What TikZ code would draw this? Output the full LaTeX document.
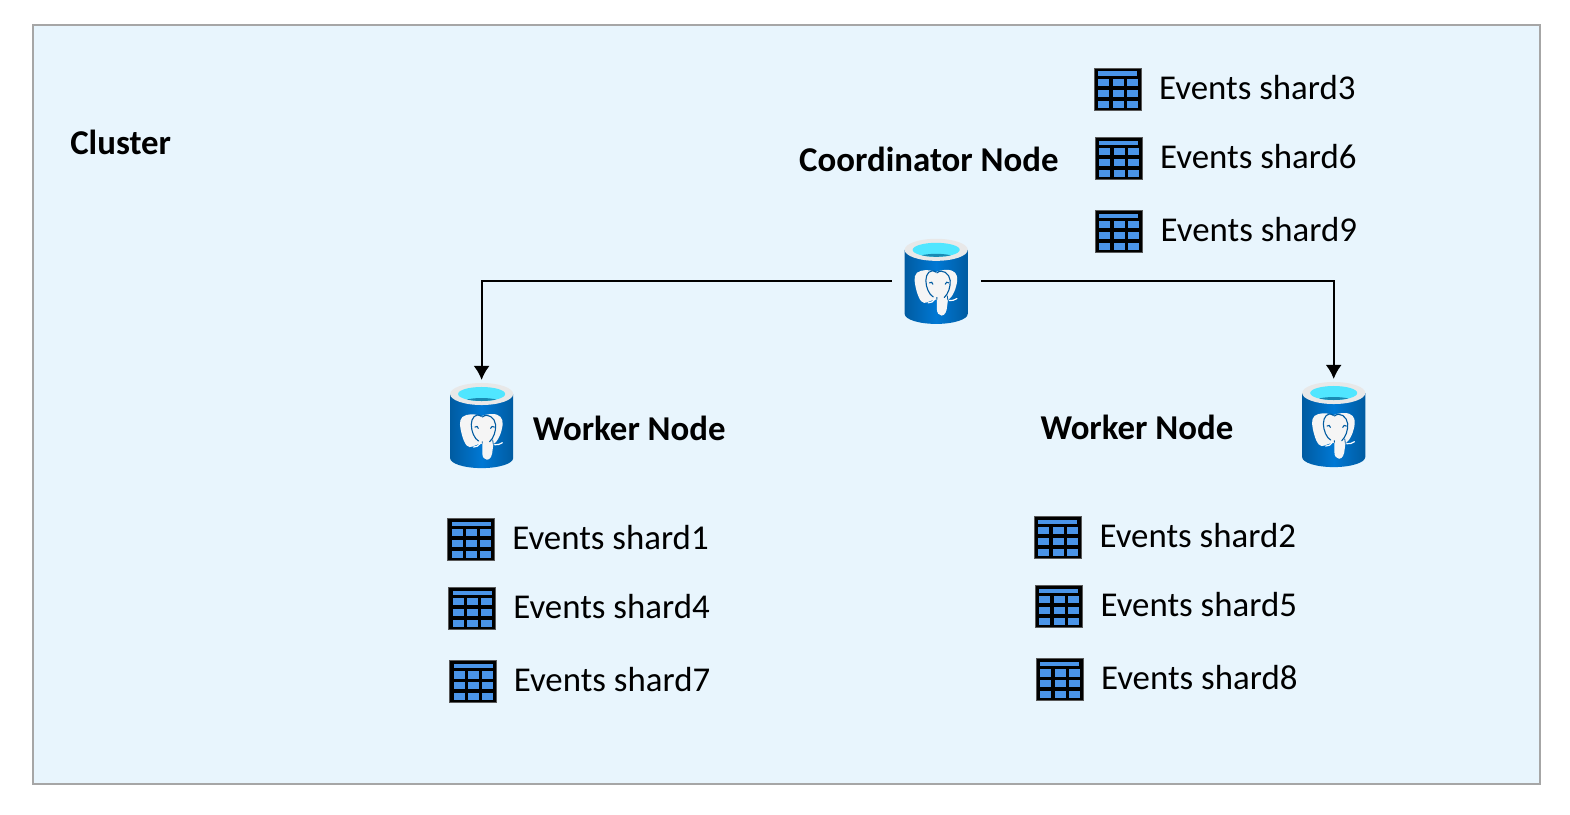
\documentclass[tikz,border=0pt]{standalone}
\usepackage{fontspec}
\setmainfont{Carlito}
\definecolor{panel}{HTML}{E8F5FD}
\definecolor{panelline}{HTML}{A6A6A6}
\definecolor{dbdark}{HTML}{005BA1}
\definecolor{dbmid}{HTML}{0078D4}
\definecolor{dbrim}{HTML}{E8E8E8}
\definecolor{dbcyan}{HTML}{50E6FF}
\definecolor{dbdeep}{HTML}{198AB3}
\definecolor{cellblue}{HTML}{4A94E8}
\tikzset{
  x=1pt,y=-1pt,
  dbnode/.style={minimum width=63pt,minimum height=85pt,inner sep=0pt,outer xsep=13pt,outer ysep=2.5pt},
  tablenode/.style={minimum width=47pt,minimum height=42pt,inner sep=0pt,outer sep=0pt,fill=black,draw=black!65!white,line width=.6pt},
  rowtext/.style={anchor=base west,inner sep=0pt,font=\fontsize{34.8}{40}\selectfont,text=black},
  headtext/.style={anchor=base west,inner sep=0pt,font=\fontsize{34.8}{40}\selectfont\bfseries,text=black},
  link/.style={draw=black,line width=2.2pt,-{Latex[length=14pt,width=16pt]}},
  elephantline/.style={draw=dbdark,line width=1.1pt,line cap=round}
}
\usetikzlibrary{arrows.meta}
\newcommand{\dbicon}[3]{%
  \node[dbnode] (#1) at (#2,#3) {};
  \begin{scope}[shift={(#2,#3)}]
    \shade[left color=dbdark,right color=dbdark,middle color=dbmid]
      (-31.5,33) arc[start angle=180,end angle=360,x radius=31.5pt,y radius=10pt] -- (31.5,-31) -- (-31.5,-31) -- cycle;
    \fill[dbrim] (0,-31) ellipse[x radius=31.5pt,y radius=11pt];
    \begin{scope}
      \clip (0,-31) ellipse[x radius=23.5pt,y radius=7pt];
      \fill[dbcyan] (-24,-39) rectangle (24,-23);
      \fill[dbdeep] (0,-20) ellipse[x radius=24pt,y radius=7pt];
    \end{scope}
    \begin{scope}[x=.3333pt,y=-.3333pt,shift={(-166,-166)}]
      \fill[white!96!black] (120,136) .. controls (100,140) and (99,160) .. (103,178)
        .. controls (108,205) and (118,232) .. (130,232)
        .. controls (142,232) and (150,222) .. (168,222)
        -- (168,250) .. controls (168,262) and (174,270) .. (182,270)
        .. controls (192,270) and (198,258) .. (199,240)
        -- (201,224) .. controls (215,215) and (226,190) .. (229,165)
        .. controls (231,145) and (220,133) .. (198,133)
        .. controls (185,133) and (172,136) .. (165,140)
        .. controls (155,134) and (135,132) .. (120,136) -- cycle;
      \draw[elephantline] (165,140) .. controls (148,128) and (135,145) .. (135,165)
        .. controls (135,185) and (145,208) .. (157,214);
      \draw[elephantline] (168,142) .. controls (185,128) and (206,145) .. (208,165)
        .. controls (209,185) and (202,205) .. (190,216);
      \draw[elephantline] (146,172) .. controls (150,168) and (156,170) .. (156,176);
      \draw[elephantline] (193,176) .. controls (194,170) and (200,168) .. (204,172);
      \draw[white,line width=1.2pt,line cap=round] (142,232) .. controls (150,232) and (158,228) .. (161,222);
      \draw[white,line width=1.2pt,line cap=round] (205,225) .. controls (212,226) and (222,224) .. (228,219);
      \draw[dbdark,line width=.8pt] (168,222) -- (168,215) (201,224) -- (199,210);
    \end{scope}
  \end{scope}}
\newcommand{\shardrow}[6]{% name, icon left, icon top, text left, baseline, text
  \node[tablenode,anchor=north west] (#1) at (#2,#3) {};
  \begin{scope}[shift={(#2,#3)}]
    \fill[cellblue] (4,3.4) rectangle (43,7.7);
    \foreach \cx in {4,18.3,32.7}{
      \foreach \cy in {11,21.7,32.7}{
        \fill[cellblue] (\cx,\cy) rectangle ++(11,7.2);
      }
    }
  \end{scope}
  \node[rowtext] (#1-label) at (#4,#5) {#6};}
\begin{document}
\begin{tikzpicture}
  \useasboundingbox (0,0) rectangle (1568,813);
  \fill[white] (0,0) rectangle (1568,813);
  \node[draw=panelline,fill=panel,line width=1.5pt,minimum width=1505pt,minimum height=758pt,anchor=north west,inner sep=0pt,outer sep=0pt] (cluster) at (33,25) {};
  \node[headtext] (clusterlabel) at (70,154.5) {Cluster};
  \node[headtext] (coordlabel) at (798,171.5) {Coordinator Node};
  \node[headtext] (w1label) at (532,439.5) {Worker Node};
  \node[headtext] (w2label) at (1039,438.5) {Worker Node};
  \dbicon{coord}{935}{280.5}
  \dbicon{w1}{481}{424.5}
  \dbicon{w2}{1332}{423.5}
  \draw[link] (coord.west) -| (w1.north);
  \draw[link] (coord.east) -| (w2.north);
  \shardrow{s3}{1093}{68}{1157.5}{99.5}{Events shard3}
  \shardrow{s6}{1094}{137}{1158.5}{168.5}{Events shard6}
  \shardrow{s9}{1094}{210}{1159}{241.5}{Events shard9}
  \shardrow{s1}{447}{517.5}{511.5}{549}{Events shard1}
  \shardrow{s4}{448}{586.5}{512.5}{618}{Events shard4}
  \shardrow{s7}{449}{659.5}{513}{691}{Events shard7}
  \shardrow{s2}{1033}{515.5}{1098}{547}{Events shard2}
  \shardrow{s5}{1034}{584.5}{1099}{616}{Events shard5}
  \shardrow{s8}{1035}{657.5}{1099.5}{689}{Events shard8}
\end{tikzpicture}
\end{document}
